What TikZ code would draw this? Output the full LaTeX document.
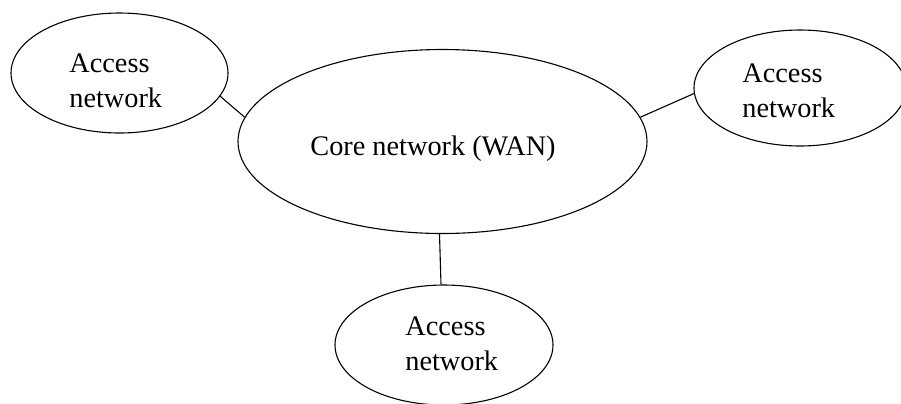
\documentclass[tikz,border=0pt]{standalone}
\usepackage{fontspec}
\setmainfont{Liberation Serif}
\usetikzlibrary{shapes.geometric}
\begin{document}
\begin{tikzpicture}[x=0.5pt,y=-0.5pt,
  net/.style={ellipse,draw,line width=0.55pt,inner sep=0pt},
  txt/.style={anchor=base west,inner sep=0pt,align=left,
    font=\fontsize{14.15}{17.5}\selectfont},
  link/.style={line width=0.55pt}]
\useasboundingbox (0,0) rectangle (901,403);
\clip (0,0) rectangle (901,403);
\node[net,minimum width=204.5pt,minimum height=92pt] (core) at (442.5,141.5) {};
\node[net,minimum width=108.5pt,minimum height=60pt] (left) at (119.5,73) {};
\node[net,minimum width=106pt,minimum height=58pt] (right) at (800,88) {};
\node[net,minimum width=109pt,minimum height=60pt] (bottom) at (444,345) {};
\node[txt] (coretext) at (310,155) {Core network (WAN)};
\node[txt] (lefttext) at (69,107) {Access\\network};
\node[txt] (righttext) at (742,117) {Access\\network};
\node[txt] (bottomtext) at (405,370) {Access\\network};
\draw[link] (left.-13) -- (core.173);
\draw[link] (core.7) -- (right.183);
\draw[link] ([xshift=-1.5pt]core.south) -- ([xshift=-1.5pt]bottom.north);
\end{tikzpicture}
\end{document}
